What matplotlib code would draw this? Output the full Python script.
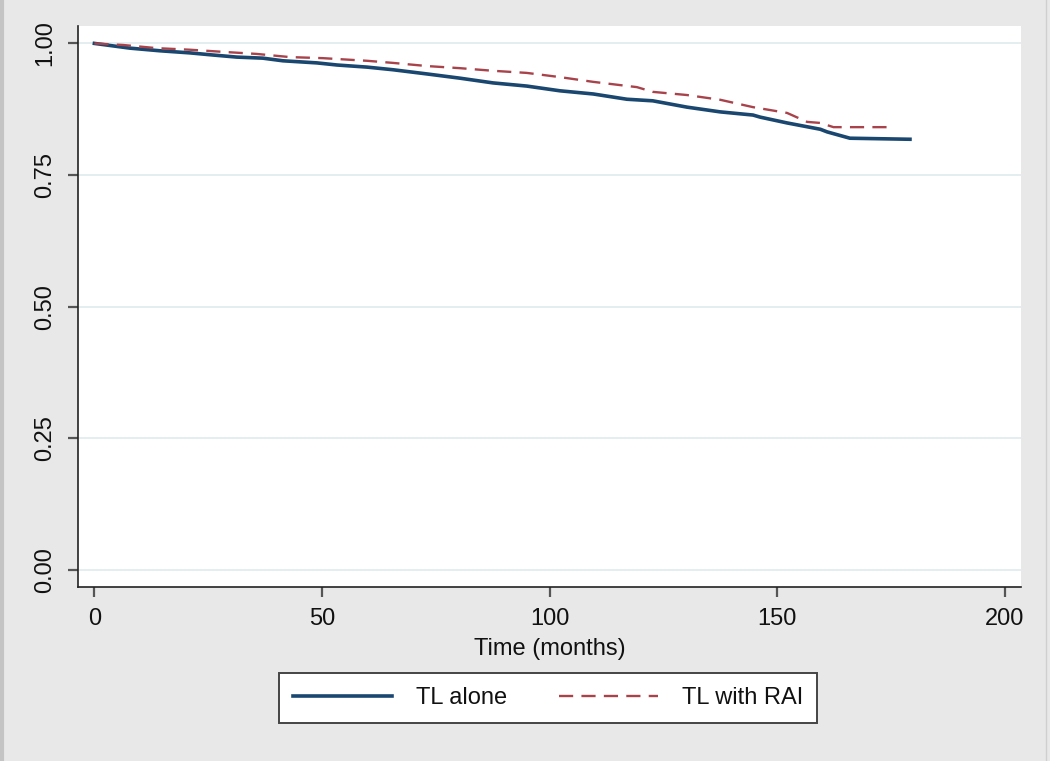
import matplotlib
matplotlib.use("Agg")
import matplotlib.pyplot as plt
from matplotlib.lines import Line2D

plt.rcParams['font.family'] = ['Liberation Sans', 'DejaVu Sans']

# Kaplan-Meier estimates (time in months, survival)
time_alone = [0, 7.8, 14.4, 21, 26, 31.3, 37, 41.4, 48.9, 53.3, 59.9, 65.6, 73.1,
              80.3, 87.6, 95, 102.3, 109.6, 117, 122.7, 130.2, 137.5, 144.7, 146.3,
              152.2, 159.5, 161, 166, 179.2]
surv_alone = [1.0, 0.991, 0.986, 0.982, 0.978, 0.974, 0.972, 0.967, 0.963, 0.959,
              0.955, 0.950, 0.942, 0.934, 0.925, 0.919, 0.910, 0.904, 0.894, 0.891,
              0.879, 0.870, 0.864, 0.860, 0.849, 0.837, 0.832, 0.820, 0.818]

time_rai = [0, 6.3, 13.7, 21, 28.2, 35.7, 43, 50.2, 59.9, 65.6, 73.1, 80.3, 87.6,
            95, 102.3, 109.6, 119.2, 122.7, 130.2, 137.5, 144.7, 152.2, 156.6,
            159.5, 162.4, 175.5]
surv_rai = [1.0, 0.997, 0.991, 0.988, 0.984, 0.980, 0.974, 0.972, 0.967, 0.963,
            0.957, 0.953, 0.948, 0.944, 0.936, 0.927, 0.917, 0.908, 0.902, 0.893,
            0.879, 0.868, 0.851, 0.849, 0.841, 0.841]

labels = ['TL alone', 'TL with RAI']
xticks = [0, 50, 100, 150, 200]
yticks = [0.0, 0.25, 0.5, 0.75, 1.0]

navy = '#1a476f'
maroon = '#a8434b'
bg = '#e8e8e8'

fig = plt.figure(figsize=(10.5, 7.61), dpi=100, facecolor=bg)
ax = fig.add_axes([0.0743, 0.2287, 0.8981, 0.7371])
ax.set_facecolor('white')

# curves are dense staircases; drawn through the read points
ax.plot(time_alone, surv_alone, color=navy, lw=2.6, label=labels[0], zorder=3)
ax.plot(time_rai, surv_rai, color=maroon, lw=1.7, dashes=(6, 3.5),
        label=labels[1], zorder=4)

ax.set_xlim(-3.6, 203.6)
ax.set_ylim(-0.032, 1.033)
ax.set_xticks(xticks)
ax.set_yticks(yticks)
ax.set_yticklabels(['%.2f' % v for v in yticks], rotation=90, va='center')
ax.yaxis.grid(True, color='#e4eef0', lw=1.4)
ax.set_axisbelow(True)

for s in ['top', 'right']:
    ax.spines[s].set_visible(False)
for s in ['left', 'bottom']:
    ax.spines[s].set_color('#222222')
    ax.spines[s].set_linewidth(1.2)

ax.tick_params(axis='both', labelsize=17, length=7, width=1.6, color='#555555',
               labelcolor='#111111')
ax.tick_params(axis='x', pad=8)
ax.tick_params(axis='y', pad=9)

ax.set_xlabel('Time (months)', fontsize=17, color='#111111', labelpad=6)

leg = fig.legend(loc='center', bbox_to_anchor=(548 / 1050, 1 - 698 / 761),
                 ncol=2, fontsize=17, frameon=True, fancybox=False, framealpha=1,
                 handlelength=4.2, handletextpad=1.0, columnspacing=2.2,
                 borderpad=0.6, borderaxespad=0)
leg.get_frame().set_edgecolor('#444444')
leg.get_frame().set_facecolor('white')
leg.get_frame().set_linewidth(1.4)
for t in leg.get_texts():
    t.set_color('#111111')

# screenshot frame edges
fig.add_artist(Line2D([0.0015, 0.0015], [0, 1], transform=fig.transFigure,
                      color='#c4c4c4', lw=3))
fig.add_artist(Line2D([0.9965, 0.9965], [0, 1], transform=fig.transFigure,
                      color='#cfcfcf', lw=1))

fig.savefig('out.png', dpi=100, facecolor=bg)
